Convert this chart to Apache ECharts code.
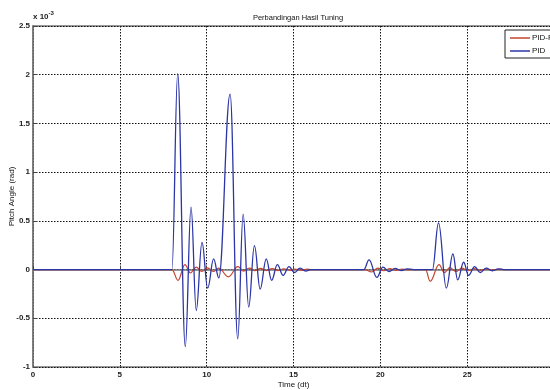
<!DOCTYPE html>
<html>
<head>
<meta charset="utf-8">
<script src="https://cdn.jsdelivr.net/npm/echarts@6/dist/echarts.min.js"></script>
<style>
  html, body { margin: 0; padding: 0; background: #fff; }
  #chart { width: 550px; height: 390px; }
</style>
</head>
<body>
<div id="chart"></div>
<script>
// values (y in units of 1e-3 rad)
var xTicks = [0, 5, 10, 15, 20, 25, 30]
var yTicks = [-1, -0.5, 0, 0.5, 1, 1.5, 2, 2.5]

// PID (blue) - peaks / troughs
var pidTime = [0, 8.0, 8.33, 8.77, 9.1, 9.4, 9.73, 10.06, 10.4, 10.7, 11.35, 11.79, 12.1, 12.42, 12.75, 13.08, 13.43, 13.74, 14.07, 14.4, 14.74, 15.06, 15.38, 15.7, 16.0,
  19.05, 19.35, 19.8, 20.15, 20.5, 20.85, 21.2, 21.55, 21.9,
  23.0, 23.35, 23.8, 24.18, 24.45, 24.8, 25.08, 25.43, 25.75, 26.1, 26.45, 26.8, 27.1, 30]
var pidValue = [0, 0, 2.01, -0.79, 0.64, -0.42, 0.28, -0.19, 0.11, -0.085, 1.80, -0.71, 0.57, -0.385, 0.245, -0.2, 0.11, -0.11, 0.05, -0.06, 0.03, -0.03, 0.015, -0.015, 0,
  0, 0.1, -0.08, 0.025, -0.02, 0.012, -0.01, 0.008, 0,
  0, 0.48, -0.19, 0.16, -0.105, 0.075, -0.06, 0.03, -0.03, 0.015, -0.012, 0.008, 0, 0]

// PID-FA (red)
var faTime = [0, 8.0, 8.35, 8.75, 9.06, 9.4, 9.72, 10.05, 10.38, 10.7, 11.25, 11.8, 12.12, 12.45, 12.78, 13.1, 13.45, 13.78, 14.1, 14.45, 14.78, 15.1, 15.45, 15.8, 16.0,
  19.1, 19.5, 19.85, 20.2, 20.55, 20.9, 21.25, 21.6, 21.9,
  22.6, 22.87, 23.38, 23.68, 24.0, 24.35, 24.7, 25.05, 25.4, 25.75, 26.1, 26.45, 26.8, 27.1, 30]
var faValue = [0, 0, -0.11, 0.05, -0.035, 0.025, -0.02, 0.018, -0.02, 0.015, -0.075, 0.03, -0.015, 0.015, -0.012, 0.012, -0.01, 0.01, -0.01, 0.008, -0.008, 0.006, -0.006, 0.004, 0,
  0, -0.025, 0.015, -0.012, 0.01, -0.008, 0.006, -0.004, 0,
  0, -0.12, 0.05, -0.03, 0.02, -0.02, 0.015, -0.012, 0.01, -0.008, 0.006, -0.005, 0.003, 0, 0]

function pairs (xs, ys) {
  return xs.map(function (x, i) { return [x, ys[i]] })
}

var font = 'Liberation Sans Narrow, Liberation Sans, Arial'
var chart = echarts.init(document.getElementById('chart'))

var option = {
  animation: false,
  backgroundColor: '#fff',
  title: {
    text: 'Perbandingan Hasil Tuning',
    left: 293,
    top: 9,
    textAlign: 'center',
    textStyle: { fontFamily: font, fontSize: 7.5, fontWeight: 'normal', color: '#111' }
  },
  graphic: [{
    type: 'text',
    left: 33,
    top: 10,
    style: {
      text: '{a|x 10}{b|-3}',
      rich: {
        a: { fontFamily: font, fontSize: 8, fontWeight: 'bold', fill: '#222', padding: [3, 0, 0, 0] },
        b: { fontFamily: font, fontSize: 6, fontWeight: 'bold', fill: '#222', verticalAlign: 'top' }
      }
    }
  }],
  legend: {
    orient: 'vertical',
    left: 505,
    top: 30,
    padding: [4, 30, 3, 5],
    itemGap: 5,
    itemWidth: 20,
    itemHeight: 1.5,
    icon: 'rect',
    borderColor: '#222',
    borderWidth: 1,
    backgroundColor: '#fff',
    textStyle: { fontFamily: font, fontSize: 8, color: '#111', padding: [0, 0, 0, -3] },
    data: ['PID-FA', 'PID']
  },
  grid: {
    left: 33,
    top: 26,
    width: 521,
    height: 341,
    outerBoundsMode: 'none',
    containLabel: false,
    show: true,
    borderColor: '#777',
    borderWidth: 1.5
  },
  xAxis: {
    type: 'value',
    min: xTicks[0],
    max: xTicks[xTicks.length - 1],
    interval: 5,
    name: 'Time (dt)',
    nameLocation: 'middle',
    nameGap: 14,
    nameMoveOverlap: false,
    nameTextStyle: { fontFamily: font, fontSize: 8, color: '#111' },
    axisLine: { lineStyle: { color: '#777', width: 1.5 } },
    axisTick: { inside: true, length: 4, lineStyle: { color: '#444' } },
    axisLabel: { fontFamily: font, fontSize: 8, fontWeight: 'bold', color: '#222', margin: 4, showMaxLabel: false },
    splitLine: { show: true, lineStyle: { color: '#111', type: [1.5, 1.5], width: 1 } }
  },
  yAxis: {
    type: 'value',
    min: yTicks[0],
    max: yTicks[yTicks.length - 1],
    interval: 0.5,
    name: 'Pitch Angle (rad)',
    nameLocation: 'middle',
    nameRotate: 90,
    nameGap: 17,
    nameMoveOverlap: false,
    nameTextStyle: { fontFamily: font, fontSize: 8, color: '#111' },
    axisLine: { show: true, lineStyle: { color: '#777', width: 1.5 } },
    axisTick: { show: true, inside: true, length: 4, lineStyle: { color: '#444' } },
    axisLabel: { fontFamily: font, fontSize: 8, fontWeight: 'bold', color: '#222', margin: 3 },
    splitLine: { show: true, lineStyle: { color: '#111', type: [1.5, 1.5], width: 1 } }
  },
  series: [
    {
      name: 'PID-FA',
      type: 'line',
      symbol: 'none',
      smooth: 0.4,
      smoothMonotone: 'x',
      lineStyle: { color: '#c4462f', width: 1.2 },
      itemStyle: { color: '#c4462f' },
      data: pairs(faTime, faValue)
    },
    {
      name: 'PID',
      type: 'line',
      symbol: 'none',
      smooth: 0.4,
      smoothMonotone: 'x',
      lineStyle: { color: '#2b35a6', width: 1.3 },
      itemStyle: { color: '#2b35a6' },
      data: pairs(pidTime, pidValue)
    }
  ]
}

chart.setOption(option)
</script>
</body>
</html>
